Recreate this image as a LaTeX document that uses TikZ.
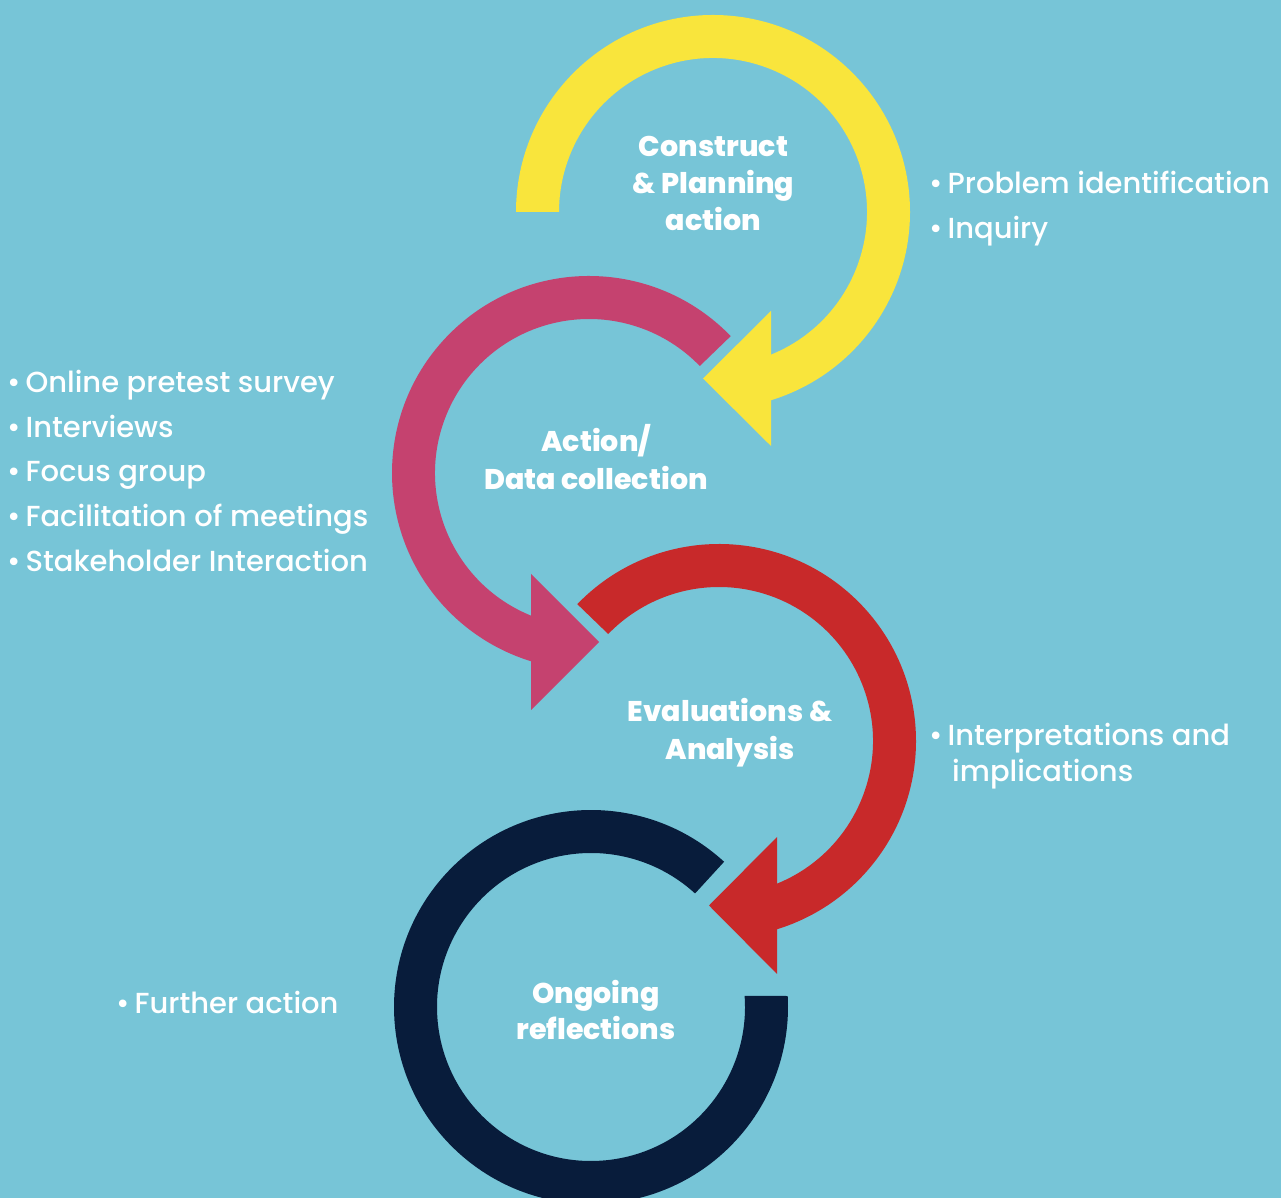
\documentclass[tikz,border=0pt]{standalone}
\usepackage{fontspec}
\setmainfont{Poppins}
\newfontfamily\titlefont{Poppins ExtraBold}
\newfontfamily\listfont{Poppins Medium}
\usetikzlibrary{calc}
\definecolor{bgc}{HTML}{77C5D7}
\definecolor{yelc}{HTML}{F9E53C}
\definecolor{pinkc}{HTML}{C5426F}
\definecolor{redc}{HTML}{C8292A}
\definecolor{navyc}{HTML}{081C3B}
\newcommand{\bul}{•\kern-2.5pt\ }
\tikzset{
  titletext/.style={text=white,inner sep=0pt,anchor=base,font=\fontsize{28.5}{37}\selectfont\titlefont},
  listtext/.style={text=white,inner sep=0pt,anchor=base west,font=\fontsize{29}{35}\selectfont\listfont}
}
\begin{document}
\begin{tikzpicture}[x=1pt,y=1pt]
\clip (0,0) rectangle (1281,1198);
\fill[bgc] (0,0) rectangle (1281,1198);
\coordinate (cy) at (713,986);
\coordinate (cp) at (589,725);
\coordinate (cr) at (719,457);
\coordinate (cn) at (591,191);
% yellow
\fill[yelc] ($(cy)+(180:197)$) arc[start angle=180,end angle=-72.9,radius=197]
  -- ($(cy)+(-67.9:154)$) arc[start angle=-67.9,end angle=180,radius=154] -- cycle;
\fill[yelc] (771,887) -- (771,752) -- (703,819.5) -- cycle;
% pink
\fill[pinkc] ($(cp)+(44:197)$) arc[start angle=44,end angle=252.9,radius=197]
  -- ($(cp)+(247.9:154)$) arc[start angle=247.9,end angle=44,radius=154] -- cycle;
\fill[pinkc] (531,624) -- (531,488) -- (599,556) -- cycle;
% red
\fill[redc] ($(cr)+(136:197)$) arc[start angle=136,end angle=-72.9,radius=197]
  -- ($(cr)+(-67.9:154)$) arc[start angle=-67.9,end angle=136,radius=154] -- cycle;
\fill[redc] (777,361) -- (777,224) -- (709,292.5) -- cycle;
% navy
\fill[navyc] ($(cn)+(47.5:197)$) arc[start angle=47.5,end angle=363.2,radius=197]
  -- ($(cn)+(364.1:154)$) arc[start angle=364.1,end angle=47.5,radius=154] -- cycle;
% titles
\node[titletext] (t1a) at (713.5,1041) {Construct};
\node[titletext] (t1b) at (713.5,1004.7) {\& Planning};
\node[titletext] (t1c) at (713.5,967) {action};
\node[titletext] (t2a) at (596,746.3) {Action/};
\node[titletext] (t2b) at (596,708.7) {Data collection};
\node[titletext] (t3a) at (730,476.3) {Evaluations \&};
\node[titletext] (t3b) at (730,438.7) {Analysis};
\node[titletext] (t4a) at (596,194.7) {Ongoing};
\node[titletext] (t4b) at (596,158.7) {reflections};
% lists
\node[listtext] (l1a) at (929,1004) {\bul Problem identification};
\node[listtext] (l1b) at (929,959) {\bul Inquiry};
\node[listtext] (l2a) at (7,805) {\bul Online pretest survey};
\node[listtext] (l2b) at (7,760.5) {\bul Interviews};
\node[listtext] (l2c) at (7,716) {\bul Focus group};
\node[listtext] (l2d) at (7,671) {\bul Facilitation of meetings};
\node[listtext] (l2e) at (7,626) {\bul Stakeholder Interaction};
\node[listtext] (l3a) at (929,452.3) {\bul Interpretations and};
\node[listtext] (l3b) at (952,416) {implications};
\node[listtext] (l4a) at (116,184) {\bul Further action};
\end{tikzpicture}
\end{document}
